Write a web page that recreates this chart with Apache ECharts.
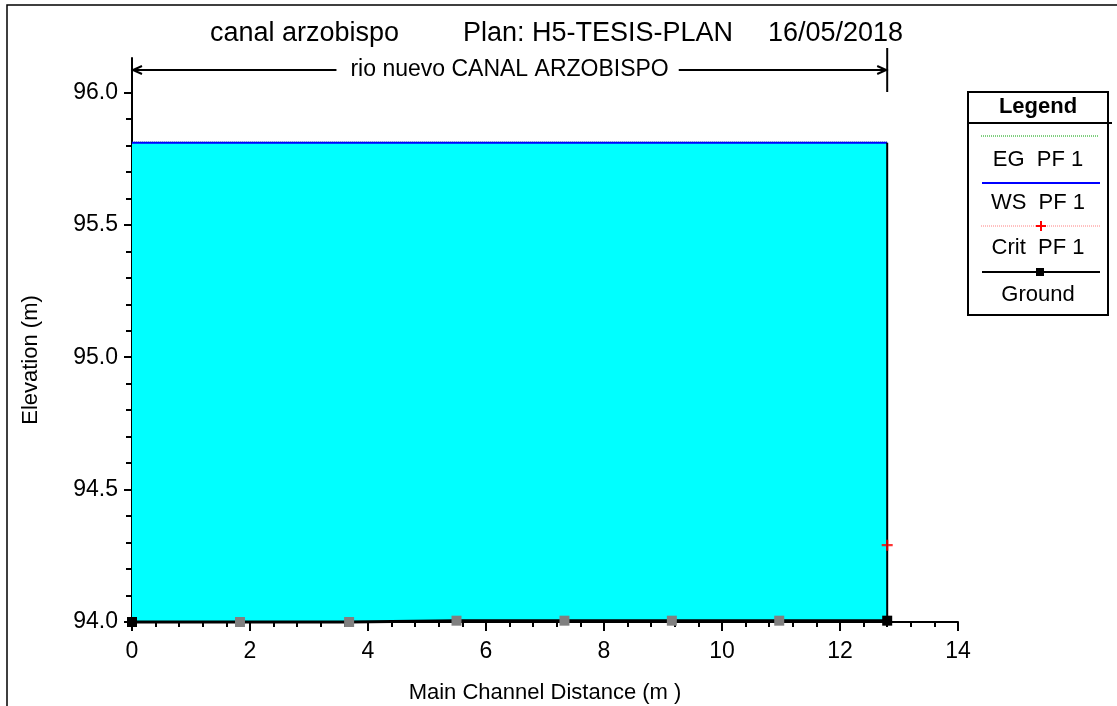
<!DOCTYPE html>
<html><head><meta charset="utf-8">
<script src="https://cdn.jsdelivr.net/npm/echarts@6/dist/echarts.min.js"></script>
<style>html,body{margin:0;padding:0;background:#fff;overflow:hidden}#c{width:1117px;height:706px}</style>
</head><body><div id="c"></div>
<script>
// ---- data ----
const stations   = [0, 1.83, 3.68, 5.5, 7.33, 9.15, 10.97, 12.8];
const groundElev = [94.0, 94.0, 94.0, 94.005, 94.005, 94.005, 94.005, 94.005];
const wsElev     = [95.81, 95.81, 95.81, 95.81, 95.81, 95.81, 95.81, 95.81];
const egElev     = [95.812, 95.812, 95.812, 95.812, 95.812, 95.812, 95.812, 95.812];
const critStation = [12.8];
const critElev    = [94.29];
const yMajorTicks = [94.0, 94.5, 95.0, 95.5, 96.0];
const yMinorTicks = [94.1, 94.2, 94.3, 94.4, 94.6, 94.7, 94.8, 94.9, 95.1, 95.2, 95.3, 95.4, 95.6, 95.7, 95.8, 95.9];
const yMin = 94.0, yMax = 96.13;
const xMin = 0, xMax = 14, xInterval = 2;
const titleParts = ['canal arzobispo', 'Plan: H5-TESIS-PLAN', '16/05/2018'];
const reachLabel = 'rio nuevo CANAL ARZOBISPO';
const legendNames = ['EG  PF 1', 'WS  PF 1', 'Crit  PF 1', 'Ground'];
const xName = 'Main Channel Distance (m )';
const yName = 'Elevation (m)';

const FONT = '"Liberation Sans", Arial, sans-serif';
const chart = echarts.init(document.getElementById('c'), null, {renderer: 'canvas'});
const last = stations.length - 1;

const groundData = stations.map((x, i) => ({
  value: [x, groundElev[i]],
  itemStyle: {color: (i === 0 || i === last) ? '#000000' : '#808080'}
}));

const option = {
  animation: false,
  backgroundColor: '#ffffff',
  textStyle: {fontFamily: FONT},
  grid: {left: 132, right: 159, top: 58, bottom: 84, containLabel: false, outerBoundsMode: 'none'},
  xAxis: {
    type: 'value', min: xMin, max: xMax, interval: xInterval,
    name: xName, nameLocation: 'middle', nameGap: 60,
    nameTextStyle: {color: '#000', fontSize: 22, fontFamily: FONT},
    axisLine: {show: true, lineStyle: {color: '#000', width: 2}},
    axisTick: {show: true, length: 9, lineStyle: {color: '#000', width: 2}},
    minorTick: {show: true, splitNumber: 5, length: 5, lineStyle: {color: '#000', width: 2}},
    axisLabel: {color: '#000', fontSize: 23, fontFamily: FONT, margin: 18},
    splitLine: {show: false}, minorSplitLine: {show: false}
  },
  yAxis: [{
    type: 'value', min: yMin, max: yMax, position: 'left',
    axisLine: {show: true, lineStyle: {color: '#000', width: 2}},
    axisTick: {show: true, length: 8, customValues: yMajorTicks, lineStyle: {color: '#000', width: 2}},
    axisLabel: {color: '#000', fontSize: 23, fontFamily: FONT, margin: 14,
      customValues: yMajorTicks, formatter: v => v.toFixed(1)},
    splitLine: {show: false}
  }, {
    type: 'value', min: yMin, max: yMax, position: 'left',
    axisLine: {show: false},
    axisTick: {show: true, length: 6, customValues: yMinorTicks, lineStyle: {color: '#000', width: 2}},
    axisLabel: {show: false},
    splitLine: {show: false}
  }],
  series: [
    {
      name: legendNames[0], type: 'line', z: 1, clip: false,
      data: stations.map((x, i) => [x, egElev[i]]),
      symbol: 'none',
      lineStyle: {color: '#00a000', width: 1, type: [1, 1]}
    },
    {
      name: legendNames[1], type: 'line', z: 2, clip: false,
      data: stations.map((x, i) => [x, wsElev[i]]),
      symbol: 'none',
      lineStyle: {color: '#0000ff', width: 2},
      areaStyle: {color: '#00ffff', opacity: 1, origin: 'start'}
    },
    {
      name: 'endWall', type: 'line', z: 3, clip: false,
      data: [[stations[last], groundElev[last]], [stations[last], wsElev[last]]],
      symbol: 'none', silent: true,
      lineStyle: {color: '#000', width: 2}
    },
    {
      name: legendNames[3], type: 'line', z: 5, clip: false,
      data: groundData,
      symbol: 'rect', symbolSize: 10,
      lineStyle: {color: '#000', width: 3}
    },
    {
      name: legendNames[2], type: 'scatter', z: 6, clip: false,
      data: critStation.map((x, i) => [x, critElev[i]]),
      symbol: 'path://M0,4H10V6H0Z M4,0H6V10H4Z', symbolSize: 11,
      itemStyle: {color: '#ff0000'}
    }
  ]
};
chart.setOption(option);

// ---- annotations computed through the axes ----
const pLeftTop = chart.convertToPixel({xAxisIndex: 0, yAxisIndex: 0}, [stations[0], yMax]);
const pRight = chart.convertToPixel({xAxisIndex: 0, yAxisIndex: 0}, [stations[last], yMax]);
const xa = pLeftTop[0], xb = pRight[0], gTop = pLeftTop[1];
const arrowY = gTop + 12;

const cv = document.createElement('canvas').getContext('2d');
const subFont = 23;
cv.font = subFont + 'px ' + FONT;
const subW = cv.measureText(reachLabel).width;
const midX = (xa + xb) / 2;
const tL = midX - subW / 2, tR = midX + subW / 2;

const blk = {stroke: '#000', lineWidth: 2};
const g = [];
// outer frame
g.push({type: 'rect', shape: {x: 7, y: 5, width: 1130, height: 720}, style: {fill: 'none', stroke: '#000', lineWidth: 1.5}, silent: true});
// title
const titleX = [210, 463, 768];
titleParts.forEach((t, i) => g.push({type: 'text', x: titleX[i], y: 34,
  style: {text: t, font: '27px ' + FONT, fill: '#000', textVerticalAlign: 'middle', textAlign: 'left'}}));
// reach bracket
g.push({type: 'line', shape: {x1: xb, y1: gTop - 10, x2: xb, y2: gTop + 34}, style: blk});
g.push({type: 'line', shape: {x1: xa, y1: arrowY, x2: tL - 14, y2: arrowY}, style: blk});
g.push({type: 'line', shape: {x1: tR + 10, y1: arrowY, x2: xb, y2: arrowY}, style: blk});
g.push({type: 'polyline', shape: {points: [[xa + 10, arrowY - 4], [xa + 1, arrowY], [xa + 10, arrowY + 4]]}, style: {stroke: '#000', lineWidth: 2, fill: 'none'}});
g.push({type: 'polyline', shape: {points: [[xb - 10, arrowY - 4], [xb - 1, arrowY], [xb - 10, arrowY + 4]]}, style: {stroke: '#000', lineWidth: 2, fill: 'none'}});
g.push({type: 'text', x: midX, y: arrowY, style: {text: reachLabel, font: subFont + 'px ' + FONT, fill: '#000', textAlign: 'center', textVerticalAlign: 'middle'}});
// y axis name
g.push({type: 'text', x: 31, y: 360, rotation: Math.PI / 2,
  style: {text: yName, font: '22px ' + FONT, fill: '#000', textAlign: 'center', textVerticalAlign: 'middle'}});
// legend box
const LX = 968, LY = 92, LW = 140, LH = 223, LC = LX + LW / 2;
g.push({type: 'rect', shape: {x: LX, y: LY, width: LW, height: LH}, style: {fill: '#fff', stroke: '#000', lineWidth: 2}});
g.push({type: 'text', x: LC, y: 107, style: {text: 'Legend', font: 'bold 22px ' + FONT, fill: '#000', textAlign: 'center', textVerticalAlign: 'middle'}});
g.push({type: 'line', shape: {x1: LX, y1: 123, x2: LX + LW + 4, y2: 123}, style: blk});
g.push({type: 'line', shape: {x1: 981, y1: 136, x2: 1099, y2: 136}, style: {stroke: '#00a000', lineWidth: 1, lineDash: [1, 1]}});
g.push({type: 'line', shape: {x1: 982, y1: 183, x2: 1100, y2: 183}, style: {stroke: '#0000ff', lineWidth: 2}});
g.push({type: 'line', shape: {x1: 981, y1: 226, x2: 1100, y2: 226}, style: {stroke: '#ff8080', lineWidth: 1, lineDash: [1, 1]}});
g.push({type: 'rect', shape: {x: 1036, y: 225, width: 10, height: 2}, style: {fill: '#ff0000'}});
g.push({type: 'rect', shape: {x: 1040, y: 221, width: 2, height: 10}, style: {fill: '#ff0000'}});
g.push({type: 'line', shape: {x1: 982, y1: 272, x2: 1100, y2: 272}, style: blk});
g.push({type: 'rect', shape: {x: 1036, y: 268, width: 8, height: 8}, style: {fill: '#000'}});
const legY = [160, 203, 248, 295];
legendNames.forEach((t, i) => g.push({type: 'text', x: LC, y: legY[i],
  style: {text: t, font: '22px ' + FONT, fill: '#000', textAlign: 'center', textVerticalAlign: 'middle'}}));

chart.setOption({graphic: g});
</script>
</body></html>
